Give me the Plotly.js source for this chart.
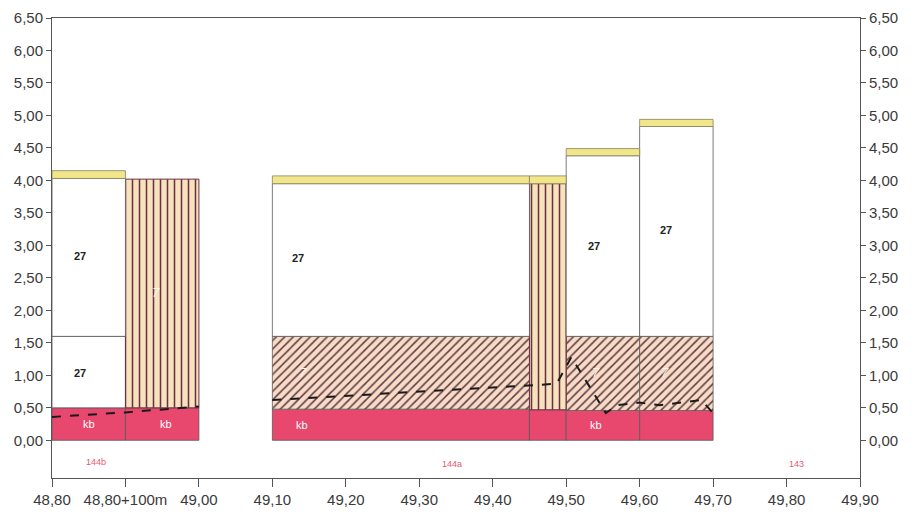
<!DOCTYPE html>
<html><head><meta charset="utf-8">
<script src="https://cdn.plot.ly/plotly-3.0.1.min.js"></script>
<style>html,body{margin:0;padding:0;background:#fff}#c{width:919px;height:517px}</style>
</head><body><div id="c"></div>
<script>
// Sections of the profile (chainage, km)
const segStart = [48.80, 48.90, 49.10, 49.45, 49.50, 49.60];
const segEnd   = [48.90, 49.00, 49.45, 49.50, 49.60, 49.70];
// Layer boundaries (m) per section; null = layer absent
const kbTop     = [0.50, 0.50, 0.48, 0.47, 0.46, 0.46];
const lower27Top= [1.60, null, null, null, null, null];
const hatchTop  = [null, null, 1.60, null, 1.60, 1.60];
const vertTop   = [null, 4.02, null, 3.95, null, null];
const upper27Top= [4.03, null, 3.95, null, 4.38, 4.83];
const soilTop   = [4.15, null, 4.07, 4.07, 4.49, 4.94];
// Dashed water line
const wlX = [48.80, 48.90, 49.00, null, 49.10, 49.487, 49.507, 49.554, 49.569, 49.600, 49.627, 49.658, 49.684, 49.699];
const wlY = [0.36, 0.43, 0.52, null, 0.62, 0.87, 1.28, 0.42, 0.54, 0.58, 0.54, 0.58, 0.62, 0.43];
// Layer labels
const kbLabX = [48.85, 48.955, 49.14, 49.54];
const kbLabY = [0.25, 0.25, 0.23, 0.23];
const l27X = [48.838, 48.838, 49.135, 49.538, 49.636];
const l27Y = [1.04, 2.83, 2.80, 2.99, 3.23];
const l7X = [48.941, 49.142, 49.54, 49.635];
const l7Y = [2.28, 1.05, 1.05, 1.05];
const siteX = [48.860, 49.345, 49.814];
const siteY = [-0.34, -0.36, -0.36];
const siteT = ['144b', '144a', '143'];
const xTickVals = [48.8, 48.9, 49.0, 49.1, 49.2, 49.3, 49.4, 49.5, 49.6, 49.7, 49.8, 49.9];
const xTickText = ['48,80', '48,80+100m', '49,00', '49,10', '49,20', '49,30', '49,40', '49,50', '49,60', '49,70', '49,80', '49,90'];
const yTickVals = [0, 0.5, 1, 1.5, 2, 2.5, 3, 3.5, 4, 4.5, 5, 5.5, 6, 6.5];

function layer(bottoms, tops, name, marker) {
  const x = [], w = [], b = [], h = [];
  for (let i = 0; i < segStart.length; i++) {
    if (tops[i] == null) continue;
    const lo = bottoms[i];
    x.push((segStart[i] + segEnd[i]) / 2);
    w.push(segEnd[i] - segStart[i]);
    b.push(lo);
    h.push(tops[i] - lo);
  }
  return {type: 'bar', name, x, y: h, base: b, width: w, marker, hoverinfo: 'skip', showlegend: false};
}
const zeros = segStart.map(() => 0);
const outline = {color: '#5a5a5a', width: 0.8};
const under = (i, arrs) => { for (const a of arrs) if (a[i] != null) return a[i]; return null; };
const below27 = segStart.map((_, i) => under(i, [hatchTop, lower27Top, kbTop]));
const belowSoil = segStart.map((_, i) => under(i, [upper27Top, vertTop]));

const traces = [
  layer(zeros, kbTop, 'kb', {color: '#e8476e', line: outline}),
  layer(kbTop, lower27Top, '27a', {color: '#ffffff', line: outline}),
  layer(kbTop, hatchTop, '7', {color: '#f6dcc6', line: outline,
    pattern: {shape: '/', fgcolor: '#5e3540', bgcolor: '#f6dcc6', size: 6, solidity: 0.25}}),
  layer(kbTop, vertTop, '7v', {color: '#f7e2bc', line: {color: '#6a3040', width: 1},
    pattern: {shape: '|', fgcolor: '#6a3048', bgcolor: '#f7e2bc', size: 7, solidity: 0.22}}),
  layer(below27, upper27Top, '27', {color: '#ffffff', line: outline}),
  layer(belowSoil, soilTop, 'soil', {color: '#f2e68a', line: {color: '#8a8060', width: 0.8}}),
  {type: 'scatter', mode: 'lines', x: wlX, y: wlY, connectgaps: false,
   line: {color: '#1a1a1a', width: 2, dash: 'dash'}, hoverinfo: 'skip', showlegend: false},
  {type: 'scatter', mode: 'markers', x: [48.8], y: [0], yaxis: 'y2', marker: {opacity: 0}, hoverinfo: 'skip', showlegend: false}
];

const ann = [];
kbLabX.forEach((x, i) => ann.push({x, y: kbLabY[i], text: 'kb', showarrow: false, font: {color: '#ffffff', size: 11, family: 'Liberation Sans, Arial'}}));
l27X.forEach((x, i) => ann.push({x, y: l27Y[i], text: '<b>27</b>', showarrow: false, font: {color: '#222', size: 11, family: 'Liberation Sans, Arial'}}));
l7X.forEach((x, i) => ann.push({x, y: l7Y[i], text: '<i>7</i>', showarrow: false, font: {color: '#fff4ec', size: 13, family: 'Liberation Sans, Arial'}}));
siteX.forEach((x, i) => ann.push({x, y: siteY[i], text: siteT[i], showarrow: false, font: {color: '#e85a70', size: 9, family: 'Liberation Sans, Arial'}}));

const tickFont = {family: 'Liberation Sans, Arial, sans-serif', size: 15, color: '#3a3a3a'};
const yCommon = {range: [-0.58, 6.5], tickvals: yTickVals, tickformat: '.2f', showgrid: false, zeroline: false,
  showline: true, linecolor: '#555', linewidth: 1, ticks: 'outside', ticklen: 5, tickcolor: '#555', tickfont: tickFont};
const layout = {
  width: 919, height: 517,
  margin: {l: 52, r: 59, t: 18, b: 39},
  paper_bgcolor: '#ffffff', plot_bgcolor: '#ffffff',
  separators: ', ',
  barmode: 'overlay',
  xaxis: {range: [48.80, 49.90], tickvals: xTickVals, ticktext: xTickText, showgrid: false, zeroline: false,
    showline: true, mirror: true, linecolor: '#555', linewidth: 1, ticks: 'outside', ticklen: 8, tickcolor: '#555', tickfont: tickFont},
  yaxis: Object.assign({}, yCommon, {side: 'left'}),
  yaxis2: Object.assign({}, yCommon, {side: 'right', overlaying: 'y', anchor: 'x'}),
  annotations: ann
};
Plotly.newPlot('c', traces, layout, {displayModeBar: false, staticPlot: true});
</script></body></html>
